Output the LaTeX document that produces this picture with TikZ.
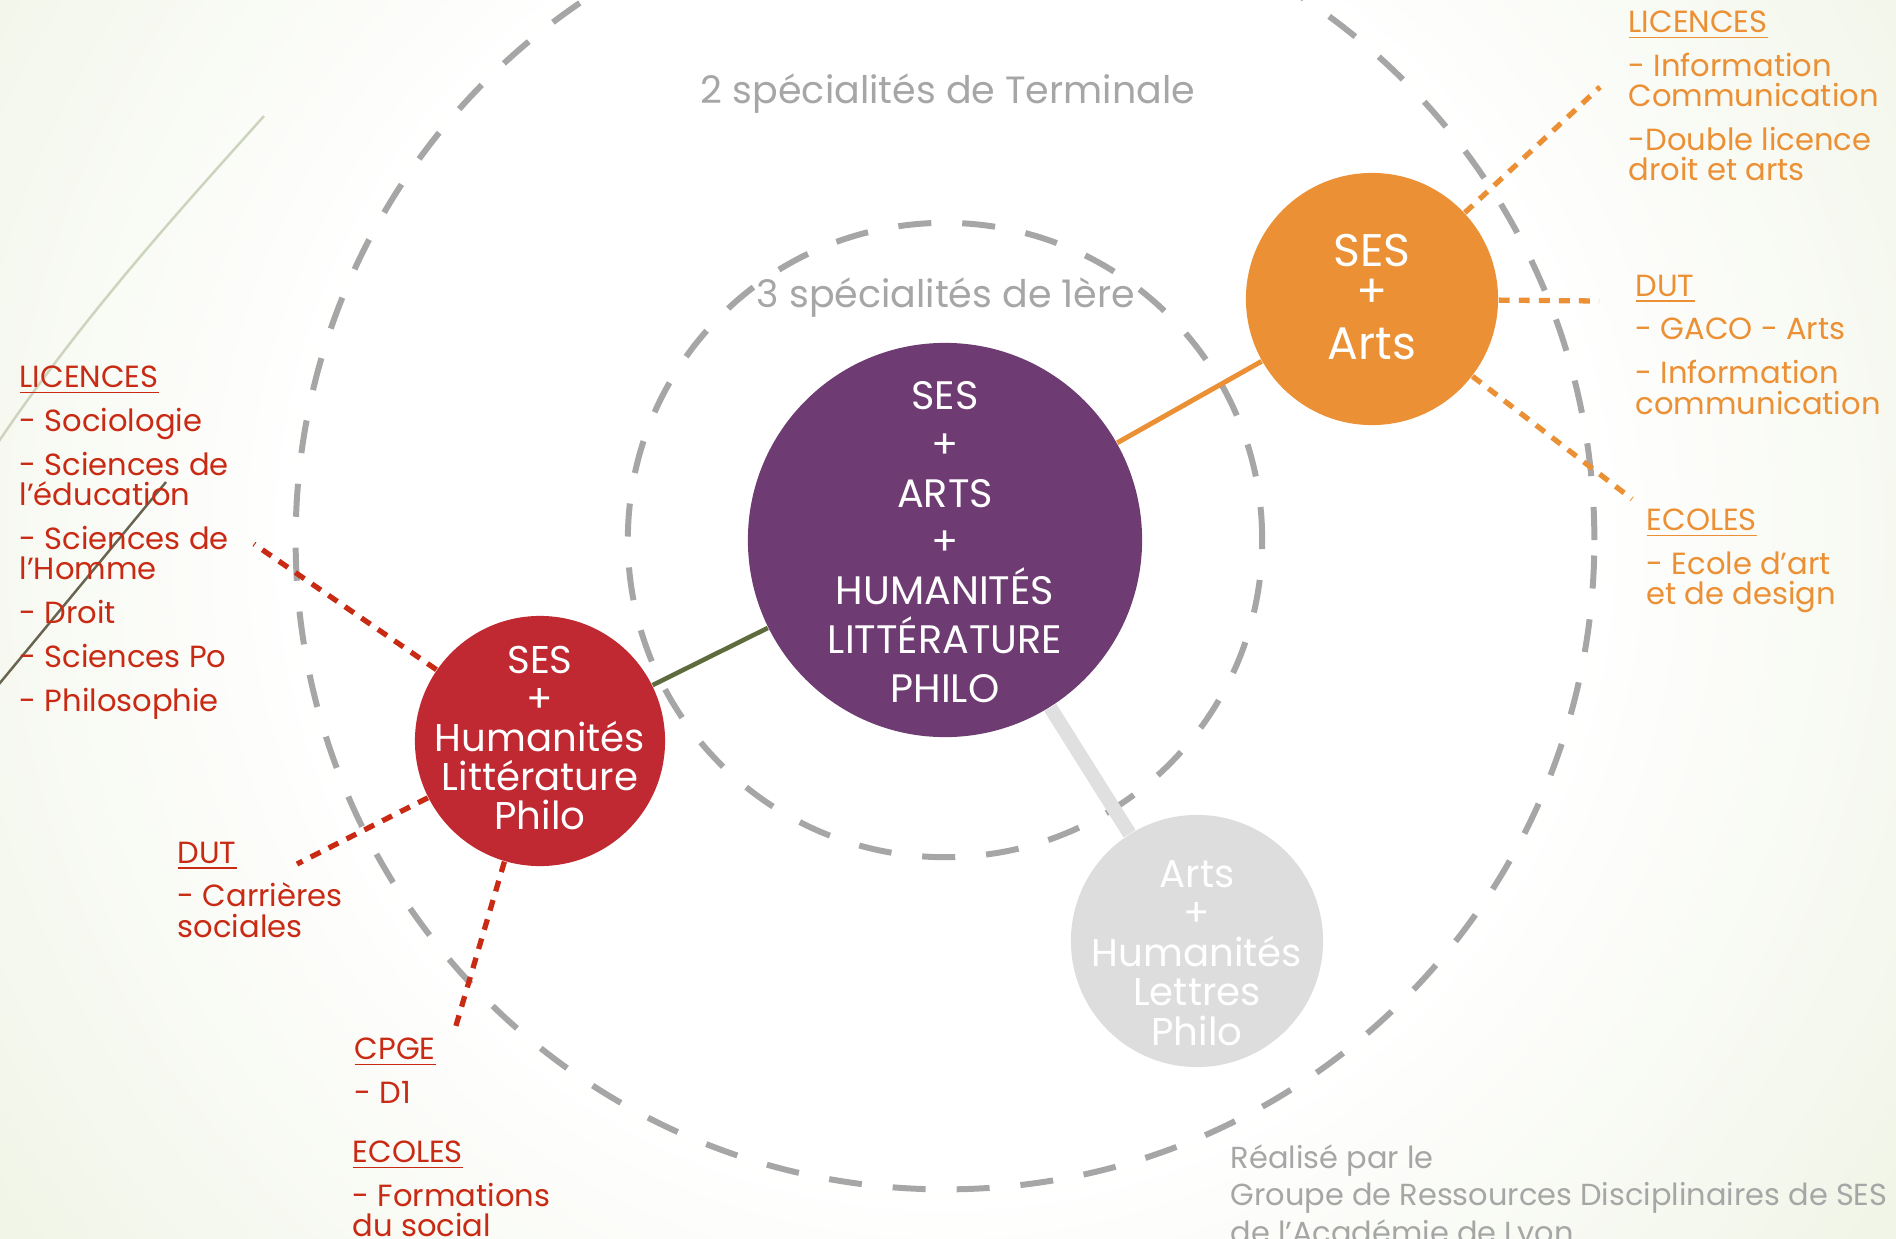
\documentclass[tikz,border=0pt]{standalone}
\usepackage{fontspec}
\setmainfont{Poppins}
\usepackage{tikz}
\usetikzlibrary{arrows}

\definecolor{prune}{RGB}{110,59,115}
\definecolor{mandarine}{RGB}{235,144,52}
\definecolor{carmin}{RGB}{192,40,50}
\definecolor{texterouge}{RGB}{200,42,20}
\definecolor{gristexte}{RGB}{166,166,166}
\definecolor{grisbulle}{RGB}{221,221,221}
\definecolor{olivetrait}{RGB}{94,107,60}
\definecolor{fondvert}{RGB}{222,232,200}
\definecolor{courbeclaire}{RGB}{205,212,190}
\definecolor{courbesombre}{RGB}{105,100,80}
\definecolor{liengris}{RGB}{224,224,224}

\newcommand{\serrer}{\lineskiplimit=-9pt\relax}

\pgfdeclareradialshading{halo}{\pgfpoint{0bp}{0bp}}{color(0bp)=(white); color(7bp)=(white); color(20bp)=(fondvert); color(50bp)=(fondvert)}

\begin{document}
\begin{tikzpicture}[x=0.01cm, y=-0.01cm,
        bulle/.style={circle, inner sep=0pt},
        texte bulle/.style={text=white, align=center, inner sep=0pt},
        cercle/.style={gristexte, line width=1.7pt, dash pattern=on 9.4pt off 8.8pt},
        pointille/.style={line width=1.5pt, dash pattern=on 3.1pt off 2.6pt},
        liste/.style={anchor=north west, inner sep=0pt, align=left, font=\fontsize{8.7}{8.6}\selectfont\serrer},
        legende/.style={text=gristexte, font=\fontsize{10.8}{13}\selectfont},
        fantome/.style={text=white, font=\fontsize{10.5}{12}\selectfont}]

        \useasboundingbox (0,0) rectangle (1896,1239);
        \shade[shading=halo] (945,540) circle (23cm);

        \draw [courbeclaire, line width=0.7pt] (264,116) .. controls (180,210) and (70,330) .. (-20,470);
        \draw [courbesombre, line width=0.7pt] (166,482) -- (-10,695);

        \node[bulle, fill=prune, minimum size=3.94cm] (centre) at (945,540) {};
        \node[bulle, fill=mandarine, minimum size=2.52cm] (mixte) at (1372,299) {};
        \node[bulle, fill=carmin, minimum size=2.5cm] (rouge) at (540,741) {};
        \node[bulle, fill=grisbulle, minimum size=2.52cm] (gris) at (1197,941) {};

        \node[texte bulle, font=\fontsize{11.3}{13.9}\selectfont] (centreTxt) at (945,542) {SES\\+\\ARTS\\+\\HUMANITÉS\\LITTÉRATURE\\PHILO};
        \node[texte bulle, font=\fontsize{13}{11.7}\selectfont\serrer] (mixteTxt) at (1372,297) {SES\\+\\[3pt]Arts};
        \node[texte bulle, font=\fontsize{11}{11.1}\selectfont\serrer] (rougeTxt) at (540,738) {SES\\+\\Humanités\\Littérature\\Philo};
        \node[texte bulle, font=\fontsize{11}{11.2}\selectfont\serrer] (grisTxt) at (1197,953) {Arts\\+\\Humanités\\Lettres\\Philo};

        \draw [cercle] (centre.center) circle (3.17cm);
        \draw [cercle] (centre.center) circle (6.49cm);

        \draw [mandarine, line width=1.4pt] (centre) -- (mixte);
        \draw [olivetrait, line width=1.3pt] (centre) -- (rouge);
        \draw [liengris, line width=4pt] (centre) -- (gris);

        \node[legende] (terminale) at (948,94) {2 spécialités de Terminale};
        \node[legende] (premiere) at (946,298) {3 spécialités de 1ère};
        \node[fantome] (svt) at (941,187) {SVT};
        \node[fantome] (arts) at (631,336) {Arts};
        \node[fantome] (humlp) at (947,889) {Humanités LP};

        \node[liste, text=texterouge] (licR) at (19,365) {\underline{LICENCES}\\[3.9pt]- Sociologie\\[3.9pt]- Sciences de\\l’éducation\\[3.9pt]- Sciences de\\l’Homme\\[3.9pt]- Droit\\[3.9pt]- Sciences Po\\[3.9pt]- Philosophie};
        \node[liste, text=texterouge] (dutR) at (177,841) {\underline{DUT}\\[3.9pt]- Carrières\\sociales};
        \node[liste, text=texterouge] (cpge) at (354,1037) {\underline{CPGE}\\[3.9pt]- D1};
        \node[liste, text=texterouge] (ecoR) at (352,1140) {\underline{ECOLES}\\[3.9pt]- Formations\\du social};

        \node[liste, text=mandarine] (licO) at (1628,10) {\underline{LICENCES}\\[3.9pt]- Information\\Communication\\[3.9pt]-Double licence\\droit et arts};
        \node[liste, text=mandarine] (dutO) at (1635,274) {\underline{DUT}\\[3.9pt]- GACO - Arts\\[3.9pt]- Information\\communication};
        \node[liste, text=mandarine] (ecoO) at (1646,508) {\underline{ECOLES}\\[3.9pt]- Ecole d’art\\et de design};

        \node[liste, text=gristexte, font=\fontsize{8.65}{10.6}\selectfont] (credit) at (1230,1144) {Réalisé par le\\Groupe de Ressources Disciplinaires de SES\\de l’Académie de Lyon};

        \coordinate (bLicR) at (254,544);
        \coordinate (bDutR) at (297,864);
        \coordinate (bCpge) at (455,1029);
        \coordinate (bLicO) at (1600,87);
        \coordinate (bDutO) at (1599,301);
        \coordinate (bEcoO) at (1632,499);

        \draw [pointille, texterouge] (rouge) -- (bLicR);
        \draw [pointille, texterouge] (rouge) -- (bDutR);
        \draw [pointille, texterouge] (rouge) -- (bCpge);
        \draw [pointille, mandarine] (mixte) -- (bLicO);
        \draw [pointille, mandarine] (mixte) -- (bDutO);
        \draw [pointille, mandarine] (mixte) -- (bEcoO);

\end{tikzpicture}
\end{document}
